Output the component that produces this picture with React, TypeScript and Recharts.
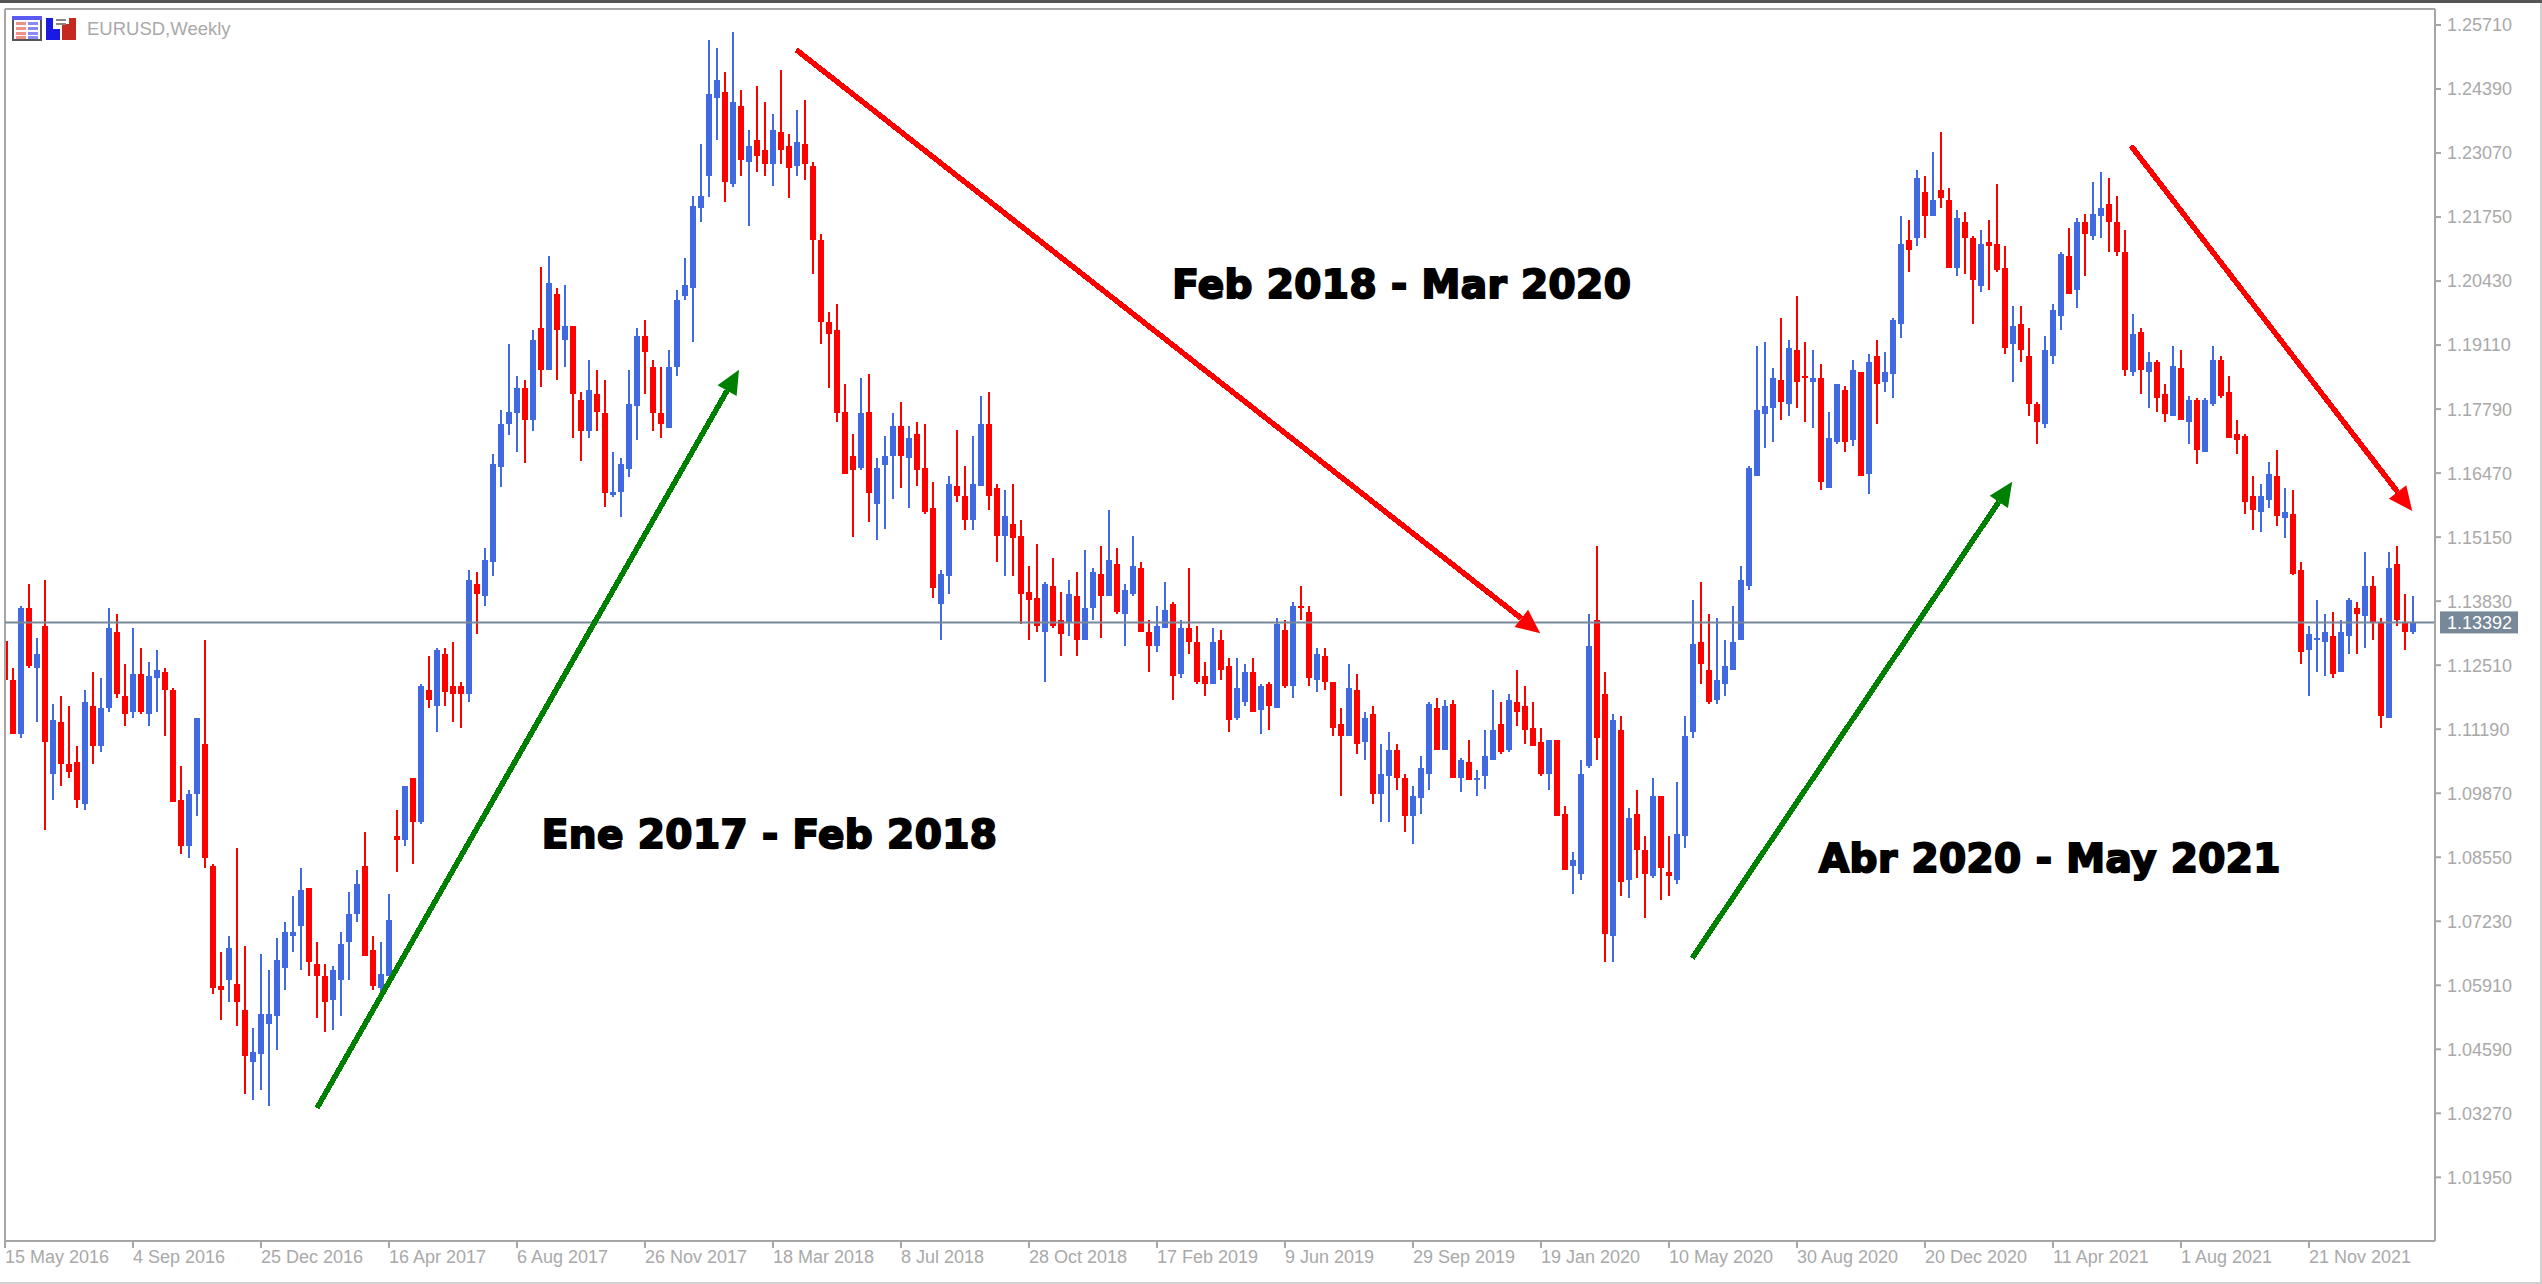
import React from 'react';
import { ComposedChart, Bar, Cell, XAxis, YAxis, ReferenceLine, ReferenceDot } from 'recharts';

const opens = [
  1.1300,1.1221,1.1109,1.1369,1.1245,1.1331,1.1026,1.1133,1.1047,1.1051,
  1.0965,1.1167,1.1085,1.1163,1.1320,1.1187,1.1155,1.1233,1.1150,1.1224,
  1.1237,1.1200,1.0972,1.0878,1.0985,1.1088,1.0837,1.0589,1.0602,1.0594,
  1.0540,1.0433,1.0449,1.0511,1.0527,1.0626,1.0692,1.0713,1.0792,1.0635,
  1.0610,1.0561,1.0602,1.0680,1.0738,1.0837,1.0664,1.0585,1.0610,1.0898,
  1.0890,1.1018,1.0927,1.1200,1.1167,1.1274,1.1208,1.1208,1.1192,1.1418,
  1.1394,1.1464,1.1659,1.1749,1.1770,1.1823,1.1757,1.1947,1.1860,1.2017,
  1.1922,1.1951,1.1798,1.1733,1.1811,1.1770,1.1601,1.1608,1.1655,1.1786,
  1.1930,1.1865,1.1770,1.1741,1.1865,1.2013,1.2029,1.2194,1.2260,1.2421,
  1.2433,1.2244,1.2404,1.2289,1.2334,1.2314,1.2285,1.2351,1.2322,1.2281,
  1.2326,1.2281,1.2128,1.1959,1.1943,1.1773,1.1683,1.1658,1.1773,1.1584,
  1.1663,1.1683,1.1744,1.1678,1.1727,1.1657,1.1575,1.1377,1.1435,1.1620,
  1.1600,1.1550,1.1620,1.1748,1.1616,1.1517,1.1542,1.1517,1.1402,1.1389,
  1.1319,1.1414,1.1344,1.1340,1.1394,1.1303,1.1369,1.1439,1.1394,1.1460,
  1.1357,1.1398,1.1451,1.1319,1.1291,1.1328,1.1377,1.1233,1.1328,1.1299,
  1.1229,1.1212,1.1303,1.1249,1.1142,1.1175,1.1237,1.1159,1.1212,1.1163,
  1.1324,1.1208,1.1373,1.1361,1.1220,1.1270,1.1216,1.1130,1.1105,1.1200,
  1.1093,1.1150,1.0986,1.1023,1.1076,1.1019,1.0940,1.0977,1.1027,1.1163,
  1.1076,1.1171,1.1019,1.1051,1.1014,1.1023,1.1056,1.1130,1.1076,1.1175,
  1.1167,1.1122,1.1093,1.1027,1.1097,1.0944,1.0837,1.0821,1.1043,1.1344,
  1.1192,1.0693,1.1118,1.0808,1.0944,1.0870,1.0817,1.0982,1.0825,1.0808,
  1.0899,1.1113,1.1299,1.1241,1.1179,1.1212,1.1241,1.1303,1.1414,1.1642,
  1.1769,1.1782,1.1839,1.1790,1.1901,1.1848,1.1835,1.1844,1.1617,1.1712,
  1.1819,1.1716,1.1856,1.1646,1.1889,1.1835,1.1852,1.1955,1.2128,1.2132,
  1.2227,1.2177,1.2231,1.2210,1.2070,1.2165,1.2132,1.2033,1.2124,1.2120,
  1.2070,1.1914,1.1955,1.1889,1.1790,1.1749,1.1889,1.1971,1.2095,1.2025,
  1.2165,1.2136,1.2177,1.2202,1.2165,1.2103,1.1856,1.1938,1.1856,1.1876,
  1.1811,1.1765,1.1864,1.1753,1.1798,1.1691,1.1790,1.1880,1.1815,1.1728,
  1.1724,1.1600,1.1567,1.1592,1.1641,1.1555,1.1563,1.1447,1.1283,1.1303,
  1.1299,1.1311,1.1237,1.1311,1.1369,1.1353,1.1414,1.1340,1.1142,1.1460,
  1.1340,1.1320,
];

const highs = [
  1.1308,1.1245,1.1373,1.1418,1.1307,1.1426,1.1170,1.1187,1.1167,1.1085,
  1.1200,1.1237,1.1224,1.1369,1.1357,1.1253,1.1328,1.1287,1.1257,1.1283,
  1.1245,1.1204,1.1043,1.0994,1.1142,1.1303,1.0841,1.0659,1.0692,1.0874,
  1.0672,1.0503,1.0655,1.0622,1.0688,1.0722,1.0775,1.0833,1.0792,1.0680,
  1.0635,1.0631,1.0701,1.0783,1.0829,1.0907,1.0692,1.0680,1.0779,1.0952,
  1.1002,1.1018,1.1212,1.1270,1.1287,1.1287,1.1299,1.1216,1.1447,1.1443,
  1.1492,1.1687,1.1778,1.1914,1.1848,1.1839,1.1943,1.2071,1.2095,1.2029,
  1.2034,1.1951,1.1814,1.1881,1.1860,1.1839,1.1691,1.1679,1.1860,1.1947,
  1.1963,1.1881,1.1865,1.1901,1.2025,1.2091,1.2219,1.2326,1.2541,1.2524,
  1.2474,1.2557,1.2437,1.2355,1.2446,1.2412,1.2388,1.2479,1.2347,1.2396,
  1.2417,1.2289,1.2141,1.1979,1.1996,1.1831,1.1728,1.1844,1.1852,1.1679,
  1.1724,1.1770,1.1793,1.1744,1.1752,1.1748,1.1629,1.1447,1.1641,1.1736,
  1.1662,1.1723,1.1806,1.1814,1.1624,1.1612,1.1624,1.1550,1.1455,1.1501,
  1.1422,1.1472,1.1402,1.1427,1.1443,1.1488,1.1451,1.1497,1.1571,1.1493,
  1.1418,1.1517,1.1464,1.1344,1.1373,1.1422,1.1381,1.1344,1.1451,1.1332,
  1.1258,1.1328,1.1324,1.1266,1.1266,1.1253,1.1266,1.1212,1.1216,1.1348,
  1.1344,1.1381,1.1414,1.1373,1.1286,1.1286,1.1216,1.1163,1.1253,1.1233,
  1.1155,1.1167,1.1089,1.1113,1.1089,1.1027,1.1002,1.1064,1.1175,1.1183,
  1.1179,1.1179,1.1060,1.1097,1.1035,1.1118,1.1200,1.1175,1.1192,1.1241,
  1.1208,1.1175,1.1122,1.1097,1.1097,1.0961,1.0866,1.1056,1.1357,1.1497,
  1.1237,1.1150,1.1146,1.0957,1.0994,1.0899,1.1019,1.0982,1.0899,1.1010,
  1.1146,1.1386,1.1423,1.1357,1.1348,1.1303,1.1373,1.1455,1.1662,1.1909,
  1.1918,1.1864,1.1967,1.1922,1.2013,1.1918,1.1901,1.1872,1.1773,1.1831,
  1.1827,1.1881,1.1856,1.1893,1.1922,1.1897,1.1967,1.2177,1.2169,1.2272,
  1.2260,1.2309,1.2350,1.2235,1.2190,1.2186,1.2136,1.2148,1.2169,1.2243,
  1.2116,1.1992,1.1992,1.1947,1.1794,1.1930,1.1996,1.2103,1.2153,1.2173,
  1.2181,1.2247,1.2268,1.2256,1.2219,1.2148,1.1975,1.1946,1.1897,1.1881,
  1.1831,1.1909,1.1901,1.1806,1.1802,1.1802,1.1909,1.1889,1.1848,1.1757,
  1.1728,1.1641,1.1625,1.1670,1.1695,1.1617,1.1612,1.1464,1.1332,1.1386,
  1.1357,1.1361,1.1344,1.1390,1.1381,1.1484,1.1435,1.1348,1.1484,1.1497,
  1.1398,1.1394,
];

const lows = [
  1.1221,1.1109,1.1101,1.1245,1.1133,1.0912,1.0973,1.1002,1.1018,1.0957,
  1.0952,1.1047,1.1072,1.1155,1.1183,1.1126,1.1142,1.1150,1.1126,1.1155,
  1.1105,1.0969,1.0861,1.0853,1.0940,1.0833,1.0573,1.0520,1.0557,1.0507,
  1.0366,1.0355,1.0375,1.0342,1.0457,1.0581,1.0659,1.0622,1.0610,1.0524,
  1.0494,1.0498,1.0527,1.0602,1.0722,1.0651,1.0581,1.0568,1.0610,1.0824,
  1.0878,1.0841,1.0924,1.1163,1.1113,1.1167,1.1133,1.1122,1.1175,1.1315,
  1.1373,1.1435,1.1618,1.1725,1.1691,1.1667,1.1733,1.1824,1.1860,1.1839,
  1.1865,1.1720,1.1671,1.1720,1.1733,1.1577,1.1597,1.1556,1.1638,1.1716,
  1.1811,1.1733,1.1720,1.1741,1.1848,1.2004,1.1918,1.2165,1.2216,1.2334,
  1.2207,1.2236,1.2260,1.2157,1.2268,1.2260,1.2239,1.2285,1.2215,1.2260,
  1.2252,1.2058,1.1914,1.1823,1.1753,1.1646,1.1515,1.1654,1.1547,1.1510,
  1.1531,1.1593,1.1616,1.1575,1.1620,1.1563,1.1389,1.1303,1.1398,1.1587,
  1.1530,1.1530,1.1620,1.1571,1.1464,1.1435,1.1435,1.1336,1.1303,1.1319,
  1.1216,1.1328,1.1270,1.1311,1.1270,1.1303,1.1344,1.1307,1.1394,1.1357,
  1.1291,1.1394,1.1319,1.1237,1.1278,1.1328,1.1179,1.1225,1.1274,1.1212,
  1.1188,1.1212,1.1220,1.1113,1.1138,1.1167,1.1155,1.1109,1.1117,1.1163,
  1.1204,1.1183,1.1344,1.1208,1.1196,1.1200,1.1105,1.0981,1.1105,1.1068,
  1.1056,1.0965,1.0928,1.0928,1.0994,1.0907,1.0883,1.0944,1.0994,1.1076,
  1.1076,1.1019,1.0990,1.1014,1.0981,1.0996,1.1056,1.1068,1.1072,1.1126,
  1.1089,1.1085,1.1023,1.0994,1.0940,1.0829,1.0780,1.0808,1.1039,1.1056,
  1.0639,1.0639,1.0775,1.0771,1.0812,1.0730,1.0812,1.0767,1.0775,1.0800,
  1.0874,1.1101,1.1212,1.1171,1.1171,1.1188,1.1241,1.1303,1.1406,1.1642,
  1.1699,1.1712,1.1757,1.1765,1.1782,1.1753,1.1740,1.1613,1.1617,1.1707,
  1.1691,1.1703,1.1642,1.1604,1.1749,1.1815,1.1802,1.1926,1.2062,1.2116,
  1.2132,1.2177,1.2194,1.2070,1.2054,1.2058,1.1955,1.2021,1.2025,1.2062,
  1.1893,1.1835,1.1876,1.1765,1.1707,1.1740,1.1872,1.1942,1.2017,1.1988,
  1.2054,1.2128,1.2132,1.2103,1.2095,1.1848,1.1848,1.1811,1.1782,1.1773,
  1.1753,1.1765,1.1757,1.1707,1.1666,1.1691,1.1786,1.1802,1.1720,1.1687,
  1.1563,1.1530,1.1526,1.1575,1.1538,1.1514,1.1437,1.1254,1.1188,1.1237,
  1.1229,1.1225,1.1237,1.1274,1.1274,1.1287,1.1303,1.1122,1.1142,1.1332,
  1.1283,1.1315,
];

const closes = [
  1.1221,1.1109,1.1369,1.1249,1.1274,1.1093,1.1138,1.1047,1.1031,1.0973,
  1.1175,1.1085,1.1163,1.1328,1.1192,1.1150,1.1233,1.1155,1.1229,1.1241,
  1.1200,1.0969,1.0878,1.0985,1.1142,1.0853,1.0585,1.0581,1.0668,1.0557,
  1.0445,1.0453,1.0531,1.0531,1.0643,1.0701,1.0701,1.0787,1.0639,1.0610,
  1.0557,1.0622,1.0676,1.0738,1.0800,1.0651,1.0589,1.0614,1.0725,1.0890,
  1.1002,1.0927,1.1208,1.1179,1.1283,1.1196,1.1192,1.1192,1.1426,1.1398,
  1.1468,1.1666,1.1749,1.1773,1.1823,1.1757,1.1922,1.1860,1.2038,1.1943,
  1.1951,1.1811,1.1733,1.1819,1.1774,1.1605,1.1608,1.1666,1.1790,1.1930,
  1.1897,1.1770,1.1749,1.1865,1.2004,1.2034,1.2198,1.2219,1.2429,1.2458,
  1.2247,1.2412,1.2293,1.2322,1.2301,1.2285,1.2355,1.2314,1.2277,1.2330,
  1.2285,1.2128,1.1959,1.1934,1.1770,1.1646,1.1654,1.1770,1.1605,1.1658,
  1.1683,1.1744,1.1682,1.1719,1.1653,1.1567,1.1410,1.1439,1.1624,1.1600,
  1.1550,1.1624,1.1748,1.1600,1.1517,1.1558,1.1513,1.1398,1.1385,1.1332,
  1.1418,1.1332,1.1315,1.1398,1.1303,1.1369,1.1443,1.1394,1.1468,1.1361,
  1.1406,1.1455,1.1319,1.1291,1.1332,1.1365,1.1229,1.1328,1.1299,1.1216,
  1.1212,1.1299,1.1241,1.1138,1.1204,1.1237,1.1155,1.1208,1.1167,1.1336,
  1.1208,1.1373,1.1369,1.1225,1.1274,1.1216,1.1122,1.1105,1.1204,1.1089,
  1.1142,1.0986,1.1027,1.1076,1.1019,1.0940,1.0982,1.1039,1.1171,1.1076,
  1.1167,1.1019,1.1056,1.1014,1.1019,1.1064,1.1118,1.1072,1.1179,1.1155,
  1.1118,1.1085,1.1027,1.1097,1.0940,1.0829,1.0850,1.1027,1.1291,1.1101,
  1.0697,1.1138,1.0804,1.0936,1.0870,1.0821,1.0982,1.0833,1.0817,1.0903,
  1.1105,1.1295,1.1254,1.1175,1.1221,1.1249,1.1299,1.1427,1.1658,1.1778,
  1.1786,1.1843,1.1794,1.1905,1.1835,1.1844,1.1844,1.1629,1.1720,1.1831,
  1.1712,1.1860,1.1642,1.1876,1.1831,1.1856,1.1963,1.2120,1.2107,1.2256,
  1.2177,1.2210,1.2214,1.2070,1.2173,1.2132,1.2045,1.2120,1.2115,1.2066,
  1.1905,1.1951,1.1901,1.1790,1.1753,1.1901,1.1984,1.2099,1.2017,1.2165,
  1.2140,1.2181,1.2194,1.2165,1.2103,1.1860,1.1934,1.1860,1.1876,1.1802,
  1.1769,1.1868,1.1757,1.1798,1.1695,1.1798,1.1880,1.1806,1.1720,1.1716,
  1.1588,1.1571,1.1600,1.1646,1.1559,1.1567,1.1439,1.1278,1.1316,1.1307,
  1.1320,1.1233,1.1320,1.1386,1.1357,1.1414,1.1340,1.1146,1.1452,1.1344,
  1.1320,1.1339,
];

const priceTicks = [
  1.2571, 1.2439, 1.2307, 1.2175, 1.2043, 1.1911, 1.1779, 1.1647, 1.1515, 1.1383,
  1.1251, 1.1119, 1.0987, 1.0855, 1.0723, 1.0591, 1.0459, 1.0327, 1.0195,
];

const dateTicks = [0, 16, 32, 48, 64, 80, 96, 112, 128, 144, 160, 176, 192, 208, 224, 240, 256, 272, 288];
const dateLabels = [
  '15 May 2016', '4 Sep 2016', '25 Dec 2016', '16 Apr 2017', '6 Aug 2017', '26 Nov 2017', '18 Mar 2018',
  '8 Jul 2018', '28 Oct 2018', '17 Feb 2019', '9 Jun 2019', '29 Sep 2019', '19 Jan 2020', '10 May 2020',
  '30 Aug 2020', '20 Dec 2020', '11 Apr 2021', '1 Aug 2021', '21 Nov 2021',
];

const LAST_PRICE = 1.13392;
const PRICE_MIN = 1.00637;
const PRICE_MAX = 1.2604;
const BAR_MAX = 303.75;

// [from bar, from price, to bar, to price]
const greenArrows = [
  [39.0, 1.0338, 91.75, 1.1860],
  [210.9, 1.0647, 250.9, 1.1629],
];
const redArrows = [
  [98.9, 1.2520, 191.9, 1.1317],
  [265.75, 1.2322, 300.9, 1.1569],
];

const notes = [
  { text: 'Ene 2017 - Feb 2018', bar: 67.1, price: 1.0874 },
  { text: 'Feb 2018 - Mar 2020', bar: 145.9, price: 1.2008 },
  { text: 'Abr 2020 - May 2021', bar: 226.75, price: 1.0825 },
];

const candles = opens.map((open, i) => ({
  idx: i,
  wick: [lows[i], highs[i]],
  body: [Math.min(open, closes[i]), Math.max(open, closes[i])],
  up: closes[i] >= open,
}));

const UP = '#4169e1';
const DOWN = '#ff0000';
const FRAME = '#a6a6a6';
const LABEL = '#a9a9a9';
const SLATE = '#778899';
const FONT = '"Liberation Sans", Arial, sans-serif';

const DateTick = ({ x, y, payload }: any) => (
  <text x={x} y={y + 15} fontSize={18} fontFamily={FONT} fill={LABEL} textAnchor="start">
    {dateLabels[dateTicks.indexOf(payload.value)]}
  </text>
);

const Arrow = ({ x1, y1, x2, y2, color }: any) => {
  const len = Math.hypot(x2 - x1, y2 - y1);
  const ux = (x2 - x1) / len;
  const uy = (y2 - y1) / len;
  const bx = x2 - ux * 24;
  const by = y2 - uy * 24;
  const points = `${x2},${y2} ${bx - uy * 11},${by + ux * 11} ${bx + uy * 11},${by - ux * 11}`;
  return (
    <g>
      <line x1={x1} y1={y1} x2={bx} y2={by} stroke={color} strokeWidth={5.5} shapeRendering="crispEdges" />
      <polygon points={points} fill={color} />
    </g>
  );
};

const LastPrice = ({ x1, y1, x2, y2 }: any) => {
  const right = Math.max(x1, x2);
  return (
    <g>
      <line x1={x1} y1={y1} x2={x2} y2={y2} stroke={SLATE} strokeWidth={2} />
      <rect x={right + 5} y={y1 - 11} width={78} height={22} fill={SLATE} />
      <text x={right + 12} y={y1 + 7} fontSize={18} fontFamily={FONT} fill="#fff">
        {LAST_PRICE.toFixed(5)}
      </text>
    </g>
  );
};

const Note = ({ cx, cy, text }: any) => (
  <text x={cx} y={cy} fontSize={39} fontWeight={700} letterSpacing={0.4} fontFamily='"DejaVu Sans", sans-serif' fill="#000" stroke="#000" strokeWidth={2}>
    {text}
  </text>
);

const Icons = () => (
  <svg width={80} height={30} style={{ position: 'absolute', left: 0, top: 14 }}>
    <rect x={13} y={3} width={28} height={23} fill="#fff" stroke="#555" strokeWidth={2} />
    <rect x={12} y={2} width={30} height={4} fill="#5a5af0" />
    {[8, 13, 18, 22].map((y) => (
      <g key={y}>
        <rect x={16} y={y} width={10} height={3} fill="#f09088" />
        <rect x={28} y={y} width={10} height={3} fill="#8a8af5" />
      </g>
    ))}
    <rect x={46} y={4} width={14} height={22} fill="#1a1ae0" />
    <rect x={53} y={4} width={12} height={11} fill="#fff" />
    <rect x={62} y={10} width={14} height={16} fill="#c42a20" />
    <rect x={69} y={4} width={7} height={8} fill="#c42a20" />
    <rect x={56} y={5} width={10} height={2} fill="#888" />
    <rect x={56} y={9} width={10} height={2} fill="#888" />
  </svg>
);

export default function App() {
  return (
    <div style={{ position: 'absolute', left: 0, top: 0, width: 2542, height: 1284, background: '#fff', overflow: 'hidden' }}>
      <ComposedChart
        width={2542}
        height={1284}
        data={candles}
        margin={{ top: 9, right: 0, bottom: 0, left: 5 }}
      >
        <XAxis xAxisId="body" dataKey="idx" type="number" domain={[0, BAR_MAX]} allowDataOverflow ticks={dateTicks} height={0} hide />
        <XAxis
          xAxisId="wick"
          dataKey="idx"
          type="number"
          domain={[0, BAR_MAX]}
          allowDataOverflow
          ticks={dateTicks}
          interval={0}
          height={43}
          tickSize={7}
          tickMargin={0}
          stroke={FRAME}
          strokeWidth={2}
          tick={<DateTick />}
        />
        <YAxis
          orientation="right"
          type="number"
          domain={[PRICE_MIN, PRICE_MAX]}
          allowDataOverflow
          ticks={priceTicks}
          interval={0}
          width={107}
          tickSize={6}
          tickMargin={6}
          stroke={FRAME}
          strokeWidth={2}
          tick={{ fontSize: 18, fontFamily: FONT, fill: LABEL, textAnchor: 'start' }}
          tickFormatter={(v: number) => v.toFixed(5)}
        />
        <ReferenceLine xAxisId="wick" x={0} stroke={FRAME} strokeWidth={2} ifOverflow="visible" />
        <ReferenceLine xAxisId="wick" y={PRICE_MAX} stroke={FRAME} strokeWidth={2} ifOverflow="visible" />
        <ReferenceLine xAxisId="wick" y={LAST_PRICE} shape={<LastPrice />} />
        <Bar xAxisId="wick" dataKey="wick" barSize={2} isAnimationActive={false} shapeRendering="crispEdges">
          {candles.map((c) => (
            <Cell key={c.idx} fill={c.up ? UP : DOWN} />
          ))}
        </Bar>
        <Bar xAxisId="body" dataKey="body" barSize={6} isAnimationActive={false} shapeRendering="crispEdges">
          {candles.map((c) => (
            <Cell key={c.idx} fill={c.up ? UP : DOWN} />
          ))}
        </Bar>
        {greenArrows.map((a) => (
          <ReferenceLine
            key={a[0]}
            xAxisId="wick"
            segment={[{ x: a[0], y: a[1] }, { x: a[2], y: a[3] }]}
            shape={<Arrow color="#008000" />}
          />
        ))}
        {redArrows.map((a) => (
          <ReferenceLine
            key={a[0]}
            xAxisId="wick"
            segment={[{ x: a[0], y: a[1] }, { x: a[2], y: a[3] }]}
            shape={<Arrow color="#ff0000" />}
          />
        ))}
        {notes.map((n) => (
          <ReferenceDot key={n.text} xAxisId="wick" x={n.bar} y={n.price} r={0} shape={<Note text={n.text} />} />
        ))}
      </ComposedChart>
      <div style={{ position: 'absolute', left: 0, top: 0, width: 2542, height: 3, background: '#555' }} />
      <div style={{ position: 'absolute', right: 0, top: 3, width: 2, height: 1281, background: '#d0d0d0' }} />
      <div style={{ position: 'absolute', left: 0, bottom: 0, width: 2542, height: 2, background: '#d0d0d0' }} />
      <Icons />
      <div style={{ position: 'absolute', left: 87, top: 18, fontSize: 18.5, fontFamily: FONT, color: LABEL }}>EURUSD,Weekly</div>
    </div>
  );
}
